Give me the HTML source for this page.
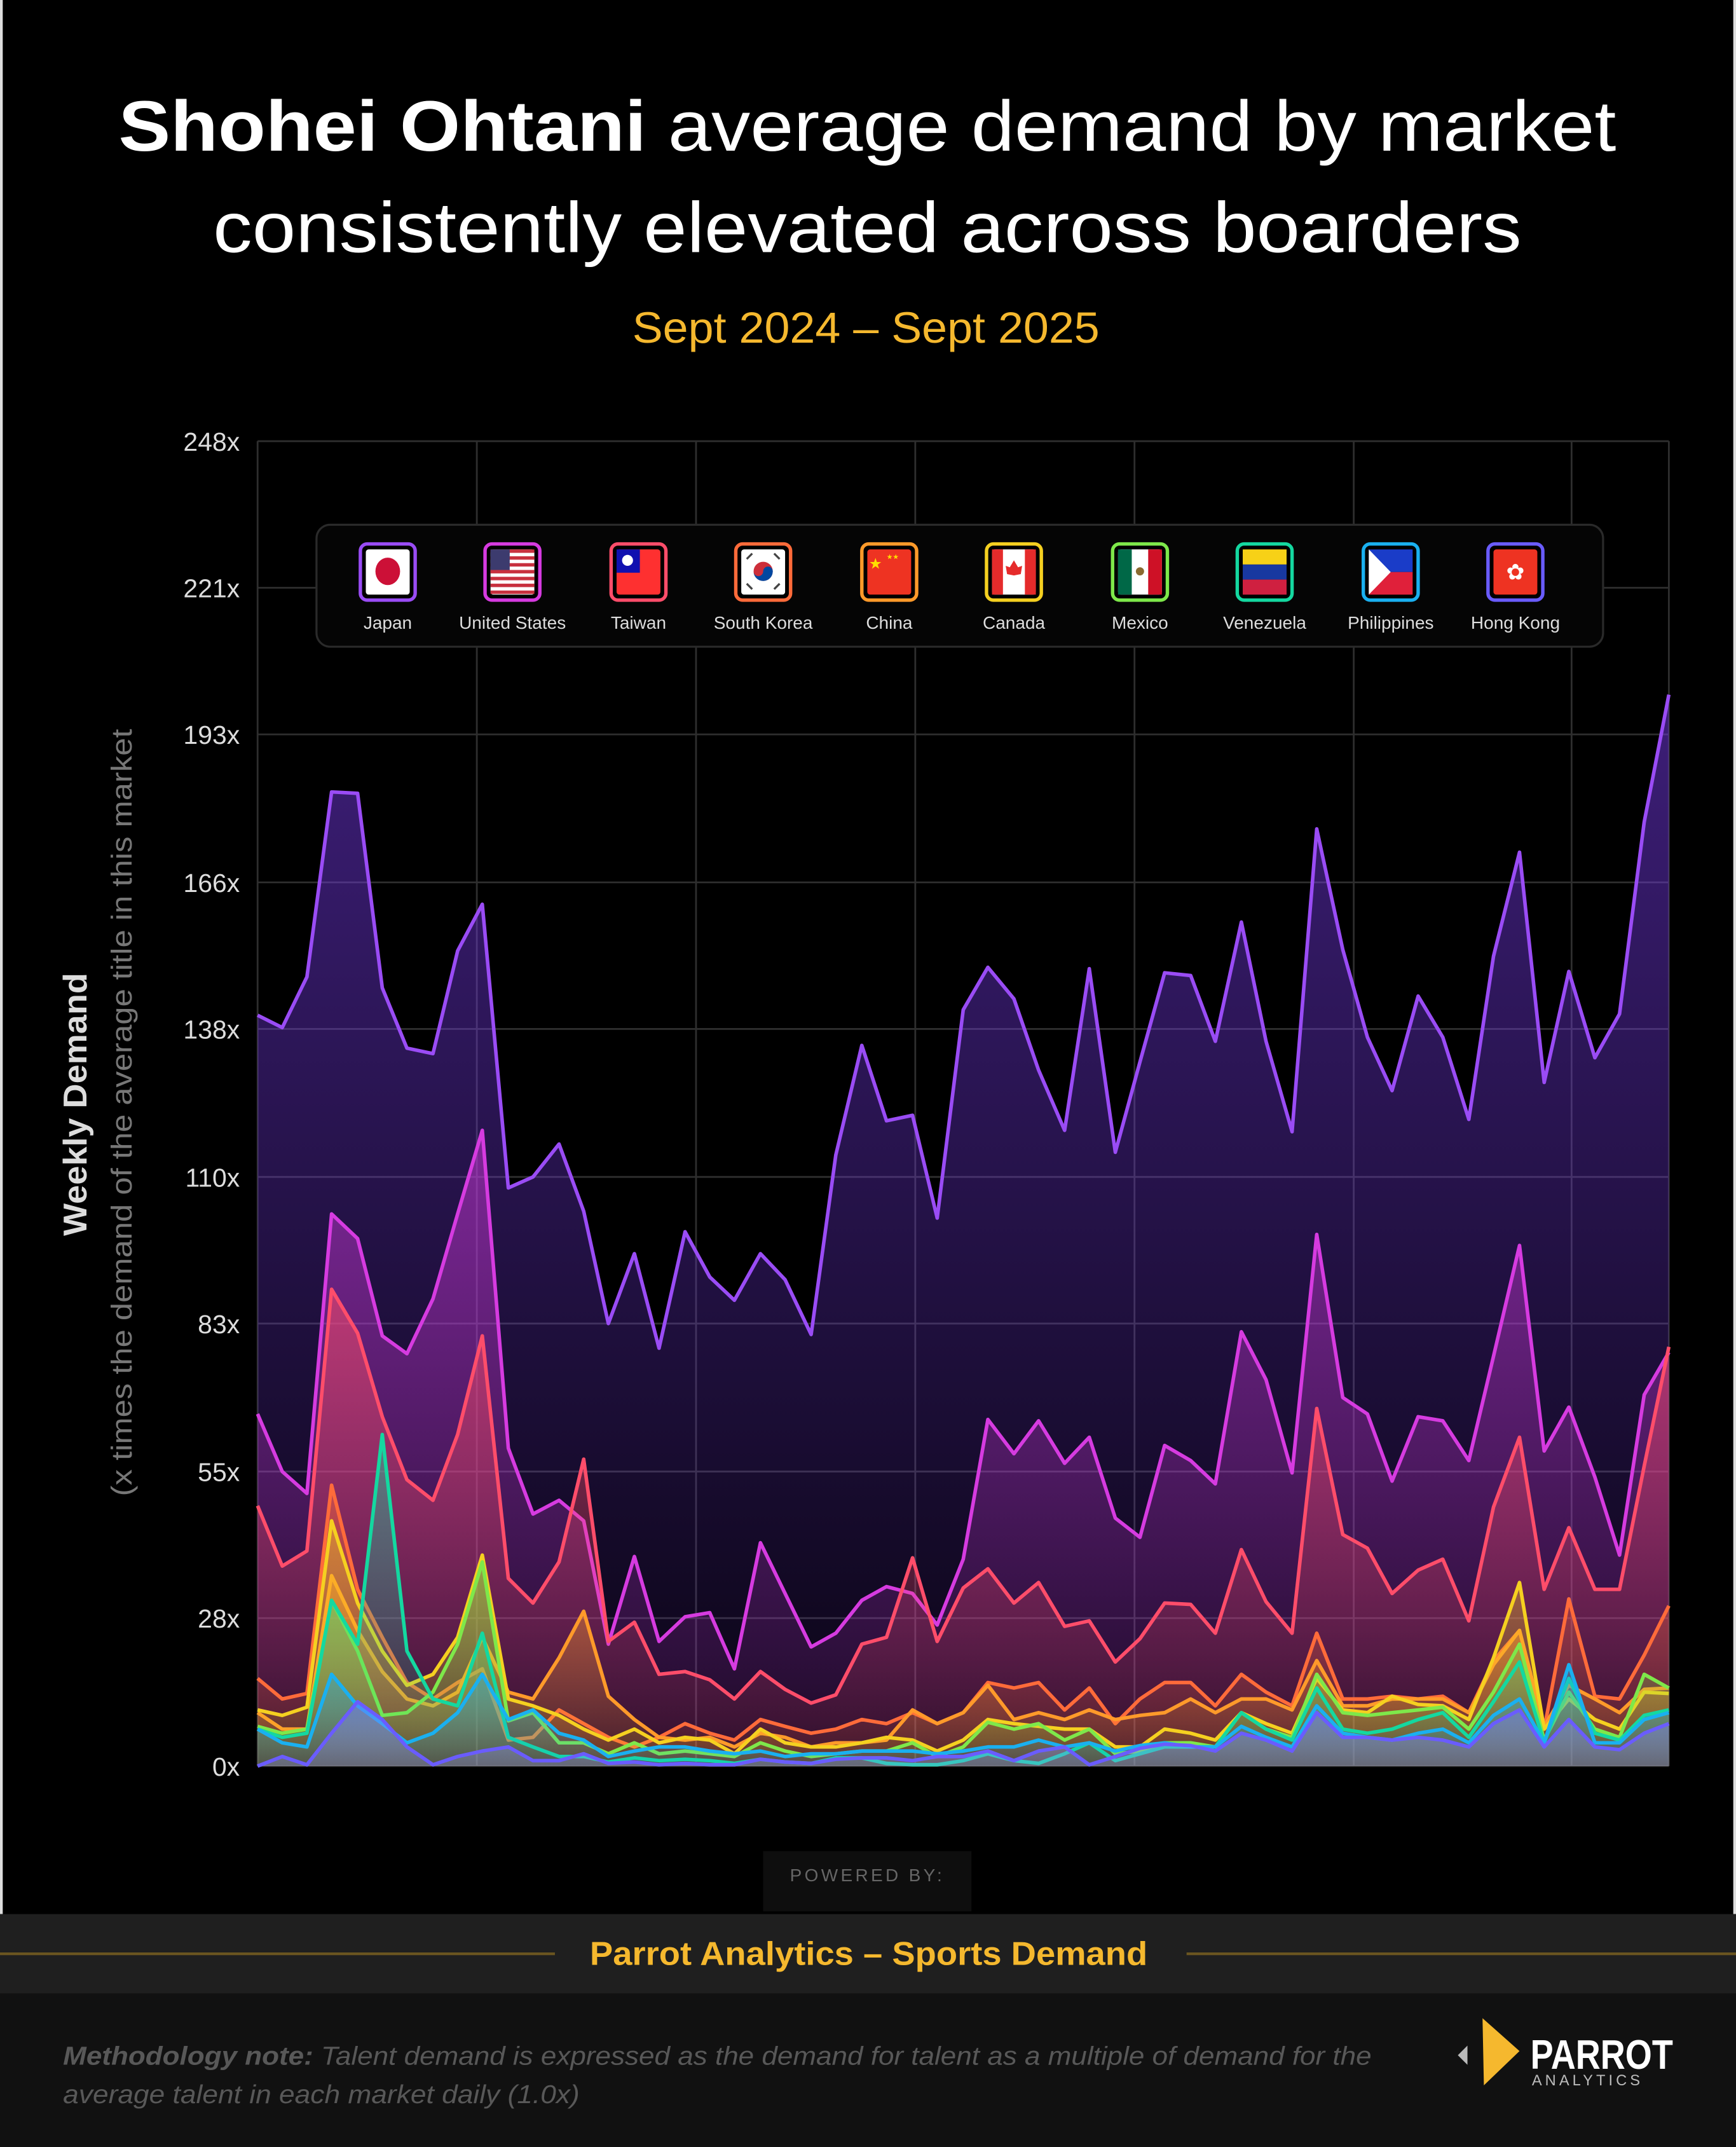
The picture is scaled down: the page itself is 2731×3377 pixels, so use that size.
<!DOCTYPE html>
<html><head><meta charset="utf-8"><style>
html,body{margin:0;padding:0;background:#000;}
svg{display:block;}
</style></head><body>
<svg width="2731" height="3377" viewBox="0 0 1267 1567" preserveAspectRatio="none" xmlns="http://www.w3.org/2000/svg" font-family="'Liberation Sans', sans-serif">
<defs>
<linearGradient id="gJ" x1="0" y1="0" x2="0" y2="1"><stop offset="0" stop-color="#7a3cf0" stop-opacity="0.5"/><stop offset="1" stop-color="#7a3cf0" stop-opacity="0.08"/></linearGradient>
<linearGradient id="gU" x1="0" y1="0" x2="0" y2="1"><stop offset="0" stop-color="#d63be0" stop-opacity="0.5"/><stop offset="1" stop-color="#d63be0" stop-opacity="0.08"/></linearGradient>
<linearGradient id="gT" x1="0" y1="0" x2="0" y2="1"><stop offset="0" stop-color="#ff4d6a" stop-opacity="0.55"/><stop offset="1" stop-color="#ff4d6a" stop-opacity="0.08"/></linearGradient>
<linearGradient id="gK" x1="0" y1="0" x2="0" y2="1"><stop offset="0" stop-color="#ff6b3a" stop-opacity="0.5"/><stop offset="1" stop-color="#ff6b3a" stop-opacity="0.08"/></linearGradient>
<linearGradient id="gC" x1="0" y1="0" x2="0" y2="1"><stop offset="0" stop-color="#ff9a2a" stop-opacity="0.5"/><stop offset="1" stop-color="#ff9a2a" stop-opacity="0.08"/></linearGradient>
<linearGradient id="gY" x1="0" y1="0" x2="0" y2="1"><stop offset="0" stop-color="#f5d020" stop-opacity="0.45"/><stop offset="1" stop-color="#f5d020" stop-opacity="0.08"/></linearGradient>
<linearGradient id="gM" x1="0" y1="0" x2="0" y2="1"><stop offset="0" stop-color="#7ee84a" stop-opacity="0.45"/><stop offset="1" stop-color="#7ee84a" stop-opacity="0.08"/></linearGradient>
<linearGradient id="gV" x1="0" y1="0" x2="0" y2="1"><stop offset="0" stop-color="#14d8a0" stop-opacity="0.45"/><stop offset="1" stop-color="#14d8a0" stop-opacity="0.08"/></linearGradient>
<linearGradient id="gP" x1="0" y1="0" x2="0" y2="1"><stop offset="0" stop-color="#1ab0f0" stop-opacity="0.45"/><stop offset="1" stop-color="#1ab0f0" stop-opacity="0.1"/></linearGradient>
<linearGradient id="gH" x1="0" y1="0" x2="0" y2="1"><stop offset="0" stop-color="#7070ff" stop-opacity="0.5"/><stop offset="1" stop-color="#a0a0ff" stop-opacity="0.25"/></linearGradient>
</defs>
<rect x="0" y="0" width="1267" height="1567" fill="#000"/>
<rect x="0" y="0" width="2" height="1397" fill="#ddd"/>
<rect x="1265" y="0" width="2" height="1397" fill="#ddd"/>

<!-- Title -->
<text x="633" y="110" text-anchor="middle" font-size="52" fill="#fff" textLength="1093" lengthAdjust="spacingAndGlyphs"><tspan font-weight="bold">Shohei Ohtani</tspan> average demand by market</text>
<text x="633" y="184" text-anchor="middle" font-size="52" fill="#fff" textLength="955" lengthAdjust="spacingAndGlyphs">consistently elevated across boarders</text>
<text x="632" y="250" text-anchor="middle" font-size="32" fill="#f5b82e" textLength="341" lengthAdjust="spacingAndGlyphs">Sept 2024 – Sept 2025</text>

<!-- Grid -->
<g stroke="#2e2e2e" stroke-width="1.3">
<line x1="188" y1="322" x2="1218" y2="322"/><line x1="188" y1="429" x2="1218" y2="429"/><line x1="188" y1="536" x2="1218" y2="536"/><line x1="188" y1="644" x2="1218" y2="644"/><line x1="188" y1="751" x2="1218" y2="751"/><line x1="188" y1="859" x2="1218" y2="859"/><line x1="188" y1="966" x2="1218" y2="966"/><line x1="188" y1="1074" x2="1218" y2="1074"/><line x1="188" y1="1181" x2="1218" y2="1181"/><line x1="188" y1="1289" x2="1218" y2="1289"/>
<line x1="188" y1="322" x2="188" y2="1289"/><line x1="348" y1="322" x2="348" y2="1289"/><line x1="508" y1="322" x2="508" y2="1289"/><line x1="668" y1="322" x2="668" y2="1289"/><line x1="828" y1="322" x2="828" y2="1289"/><line x1="988" y1="322" x2="988" y2="1289"/><line x1="1147" y1="322" x2="1147" y2="1289"/><line x1="1218" y1="322" x2="1218" y2="1289"/>
</g>
<g font-size="19" fill="#ddd" text-anchor="end">
<text x="175" y="329">248x</text><text x="175" y="436">221x</text><text x="175" y="543">193x</text><text x="175" y="651">166x</text><text x="175" y="758">138x</text><text x="175" y="866">110x</text><text x="175" y="973">83x</text><text x="175" y="1081">55x</text><text x="175" y="1188">28x</text><text x="175" y="1296">0x</text>
</g>
<text transform="translate(63,806) rotate(-90)" text-anchor="middle" font-size="24" font-weight="bold" fill="#ddd" textLength="192" lengthAdjust="spacingAndGlyphs">Weekly Demand</text>
<text transform="translate(96,812) rotate(-90)" text-anchor="middle" font-size="21" fill="#777" textLength="560" lengthAdjust="spacingAndGlyphs">(x times the demand of the average title in this market</text>

<!-- Series -->
<g stroke-width="2.6" stroke-linejoin="round" fill="none">
<polygon fill="url(#gJ)" stroke="none" points="188,741 206,750 224,713 242,578 261,579 279,721 297,765 316,769 334,694 352,660 371,867 389,859 408,835 426,884 444,966 463,915 481,984 500,899 518,932 536,949 555,915 573,934 592,974 610,843 629,763 647,818 666,814 684,889 703,737 721,706 740,729 758,781 777,825 795,707 814,841 832,775 850,710 869,712 887,760 906,673 924,760 943,826 961,605 980,693 998,757 1016,796 1035,727 1053,757 1072,817 1090,698 1109,622 1127,790 1145,709 1164,772 1182,740 1200,600 1218,507 1218,1289 188,1289"/>
<polyline stroke="#9a4cf5" points="188,741 206,750 224,713 242,578 261,579 279,721 297,765 316,769 334,694 352,660 371,867 389,859 408,835 426,884 444,966 463,915 481,984 500,899 518,932 536,949 555,915 573,934 592,974 610,843 629,763 647,818 666,814 684,889 703,737 721,706 740,729 758,781 777,825 795,707 814,841 832,775 850,710 869,712 887,760 906,673 924,760 943,826 961,605 980,693 998,757 1016,796 1035,727 1053,757 1072,817 1090,698 1109,622 1127,790 1145,709 1164,772 1182,740 1200,600 1218,507"/>

<polygon fill="url(#gU)" stroke="none" points="188,1032 206,1074 224,1090 242,886 261,904 279,975 297,988 316,948 334,886 352,825 371,1057 389,1105 408,1095 426,1110 444,1200 463,1136 481,1198 500,1180 518,1177 536,1218 555,1126 573,1163 592,1202 610,1192 629,1168 647,1158 666,1163 684,1186 703,1138 721,1036 740,1061 758,1037 777,1068 795,1049 814,1108 832,1122 850,1055 869,1066 887,1083 906,972 924,1007 943,1075 961,901 980,1020 998,1032 1016,1081 1035,1034 1053,1037 1072,1066 1090,990 1109,909 1127,1059 1145,1027 1164,1078 1182,1135 1200,1018 1218,987 1218,1289 188,1289"/>
<polyline stroke="#d63be0" points="188,1032 206,1074 224,1090 242,886 261,904 279,975 297,988 316,948 334,886 352,825 371,1057 389,1105 408,1095 426,1110 444,1200 463,1136 481,1198 500,1180 518,1177 536,1218 555,1126 573,1163 592,1202 610,1192 629,1168 647,1158 666,1163 684,1186 703,1138 721,1036 740,1061 758,1037 777,1068 795,1049 814,1108 832,1122 850,1055 869,1066 887,1083 906,972 924,1007 943,1075 961,901 980,1020 998,1032 1016,1081 1035,1034 1053,1037 1072,1066 1090,990 1109,909 1127,1059 1145,1027 1164,1078 1182,1135 1200,1018 1218,987"/>

<polygon fill="url(#gT)" stroke="none" points="188,1099 206,1143 224,1132 242,941 261,973 279,1034 297,1080 316,1095 334,1047 352,975 371,1152 389,1170 408,1140 426,1065 444,1198 463,1184 481,1222 500,1220 518,1226 536,1240 555,1220 573,1233 592,1243 610,1237 629,1200 647,1195 666,1137 684,1198 703,1159 721,1145 740,1170 758,1155 777,1187 795,1183 814,1213 832,1196 850,1170 869,1171 887,1192 906,1131 924,1169 943,1192 961,1028 980,1120 998,1130 1016,1163 1035,1146 1053,1138 1072,1183 1090,1100 1109,1049 1127,1160 1145,1115 1164,1160 1182,1160 1200,1070 1218,983 1218,1289 188,1289"/>
<polyline stroke="#ff4d6a" points="188,1099 206,1143 224,1132 242,941 261,973 279,1034 297,1080 316,1095 334,1047 352,975 371,1152 389,1170 408,1140 426,1065 444,1198 463,1184 481,1222 500,1220 518,1226 536,1240 555,1220 573,1233 592,1243 610,1237 629,1200 647,1195 666,1137 684,1198 703,1159 721,1145 740,1170 758,1155 777,1187 795,1183 814,1213 832,1196 850,1170 869,1171 887,1192 906,1131 924,1169 943,1192 961,1028 980,1120 998,1130 1016,1163 1035,1146 1053,1138 1072,1183 1090,1100 1109,1049 1127,1160 1145,1115 1164,1160 1182,1160 1200,1070 1218,983"/>

<polygon fill="url(#gK)" stroke="none" points="188,1225 206,1240 224,1236 242,1084 261,1160 279,1195 297,1228 316,1240 334,1228 352,1218 371,1270 389,1268 408,1248 426,1258 444,1268 463,1275 481,1268 500,1258 518,1265 536,1270 555,1255 573,1260 592,1265 610,1262 629,1255 647,1258 666,1250 684,1258 703,1250 721,1228 740,1232 758,1228 777,1248 795,1232 814,1258 832,1240 850,1228 869,1228 887,1245 906,1222 924,1235 943,1245 961,1192 980,1240 998,1240 1016,1238 1035,1240 1053,1238 1072,1250 1090,1212 1109,1190 1127,1262 1145,1167 1164,1238 1182,1240 1200,1208 1218,1172 1218,1289 188,1289"/>
<polyline stroke="#ff6b3a" points="188,1225 206,1240 224,1236 242,1084 261,1160 279,1195 297,1228 316,1240 334,1228 352,1218 371,1270 389,1268 408,1248 426,1258 444,1268 463,1275 481,1268 500,1258 518,1265 536,1270 555,1255 573,1260 592,1265 610,1262 629,1255 647,1258 666,1250 684,1258 703,1250 721,1228 740,1232 758,1228 777,1248 795,1232 814,1258 832,1240 850,1228 869,1228 887,1245 906,1222 924,1235 943,1245 961,1192 980,1240 998,1240 1016,1238 1035,1240 1053,1238 1072,1250 1090,1212 1109,1190 1127,1262 1145,1167 1164,1238 1182,1240 1200,1208 1218,1172"/>

<polygon fill="url(#gC)" stroke="none" points="188,1250 206,1262 224,1262 242,1150 261,1190 279,1220 297,1240 316,1245 334,1235 352,1195 371,1235 389,1240 408,1210 426,1176 444,1238 463,1255 481,1268 500,1270 518,1268 536,1275 555,1265 573,1268 592,1275 610,1272 629,1272 647,1270 666,1248 684,1258 703,1250 721,1230 740,1255 758,1250 777,1255 795,1248 814,1255 832,1252 850,1250 869,1240 887,1250 906,1240 924,1240 943,1248 961,1212 980,1245 998,1245 1016,1240 1035,1240 1053,1240 1072,1250 1090,1215 1109,1190 1127,1260 1145,1230 1164,1240 1182,1250 1200,1233 1218,1232 1218,1289 188,1289"/>
<polyline stroke="#ff9a2a" points="188,1250 206,1262 224,1262 242,1150 261,1190 279,1220 297,1240 316,1245 334,1235 352,1195 371,1235 389,1240 408,1210 426,1176 444,1238 463,1255 481,1268 500,1270 518,1268 536,1275 555,1265 573,1268 592,1275 610,1272 629,1272 647,1270 666,1248 684,1258 703,1250 721,1230 740,1255 758,1250 777,1255 795,1248 814,1255 832,1252 850,1250 869,1240 887,1250 906,1240 924,1240 943,1248 961,1212 980,1245 998,1245 1016,1240 1035,1240 1053,1240 1072,1250 1090,1215 1109,1190 1127,1260 1145,1230 1164,1240 1182,1250 1200,1233 1218,1232"/>

<polygon fill="url(#gY)" stroke="none" points="188,1248 206,1252 224,1246 242,1110 261,1170 279,1205 297,1230 316,1222 334,1195 352,1135 371,1240 389,1245 408,1252 426,1262 444,1270 463,1262 481,1272 500,1268 518,1270 536,1280 555,1262 573,1272 592,1275 610,1275 629,1272 647,1268 666,1270 684,1278 703,1270 721,1255 740,1258 758,1260 777,1262 795,1262 814,1275 832,1275 850,1262 869,1265 887,1270 906,1250 924,1258 943,1265 961,1225 980,1248 998,1250 1016,1238 1035,1244 1053,1245 1072,1255 1090,1210 1109,1155 1127,1262 1145,1240 1164,1255 1182,1262 1200,1235 1218,1236 1218,1289 188,1289"/>
<polyline stroke="#f5d020" points="188,1248 206,1252 224,1246 242,1110 261,1170 279,1205 297,1230 316,1222 334,1195 352,1135 371,1240 389,1245 408,1252 426,1262 444,1270 463,1262 481,1272 500,1268 518,1270 536,1280 555,1262 573,1272 592,1275 610,1275 629,1272 647,1268 666,1270 684,1278 703,1270 721,1255 740,1258 758,1260 777,1262 795,1262 814,1275 832,1275 850,1262 869,1265 887,1270 906,1250 924,1258 943,1265 961,1225 980,1248 998,1250 1016,1238 1035,1244 1053,1245 1072,1255 1090,1210 1109,1155 1127,1262 1145,1240 1164,1255 1182,1262 1200,1235 1218,1236"/>

<polygon fill="url(#gM)" stroke="none" points="188,1260 206,1265 224,1262 242,1168 261,1205 279,1252 297,1250 316,1235 334,1200 352,1140 371,1256 389,1250 408,1272 426,1272 444,1280 463,1272 481,1280 500,1278 518,1280 536,1282 555,1272 573,1278 592,1282 610,1280 629,1278 647,1278 666,1272 684,1282 703,1275 721,1257 740,1262 758,1258 777,1270 795,1262 814,1280 832,1278 850,1272 869,1272 887,1275 906,1250 924,1262 943,1268 961,1222 980,1250 998,1252 1016,1250 1035,1248 1053,1246 1072,1262 1090,1235 1109,1200 1127,1270 1145,1235 1164,1262 1182,1268 1200,1222 1218,1232 1218,1289 188,1289"/>
<polyline stroke="#7ee84a" points="188,1260 206,1265 224,1262 242,1168 261,1205 279,1252 297,1250 316,1235 334,1200 352,1140 371,1256 389,1250 408,1272 426,1272 444,1280 463,1272 481,1280 500,1278 518,1280 536,1282 555,1272 573,1278 592,1282 610,1280 629,1278 647,1278 666,1272 684,1282 703,1275 721,1257 740,1262 758,1258 777,1270 795,1262 814,1280 832,1278 850,1272 869,1272 887,1275 906,1250 924,1262 943,1268 961,1222 980,1250 998,1252 1016,1250 1035,1248 1053,1246 1072,1262 1090,1235 1109,1200 1127,1270 1145,1235 1164,1262 1182,1268 1200,1222 1218,1232"/>

<polygon fill="url(#gV)" stroke="none" points="188,1262 206,1268 224,1265 242,1168 261,1200 279,1047 297,1205 316,1240 334,1245 352,1192 371,1268 389,1275 408,1282 426,1282 444,1286 463,1283 481,1285 500,1284 518,1285 536,1287 555,1284 573,1286 592,1287 610,1283 629,1283 647,1287 666,1288 684,1288 703,1285 721,1280 740,1285 758,1287 777,1280 795,1272 814,1285 832,1280 850,1275 869,1275 887,1275 906,1250 924,1262 943,1270 961,1232 980,1262 998,1265 1016,1262 1035,1255 1053,1250 1072,1268 1090,1242 1109,1213 1127,1272 1145,1225 1164,1265 1182,1270 1200,1252 1218,1248 1218,1289 188,1289"/>
<polyline stroke="#14d8a0" points="188,1262 206,1268 224,1265 242,1168 261,1200 279,1047 297,1205 316,1240 334,1245 352,1192 371,1268 389,1275 408,1282 426,1282 444,1286 463,1283 481,1285 500,1284 518,1285 536,1287 555,1284 573,1286 592,1287 610,1283 629,1283 647,1287 666,1288 684,1288 703,1285 721,1280 740,1285 758,1287 777,1280 795,1272 814,1285 832,1280 850,1275 869,1275 887,1275 906,1250 924,1262 943,1270 961,1232 980,1262 998,1265 1016,1262 1035,1255 1053,1250 1072,1268 1090,1242 1109,1213 1127,1272 1145,1225 1164,1265 1182,1270 1200,1252 1218,1248"/>

<polygon fill="url(#gP)" stroke="none" points="188,1262 206,1272 224,1275 242,1222 261,1245 279,1258 297,1272 316,1265 334,1250 352,1222 371,1255 389,1248 408,1265 426,1270 444,1282 463,1278 481,1275 500,1275 518,1278 536,1280 555,1278 573,1282 592,1280 610,1280 629,1278 647,1278 666,1278 684,1280 703,1278 721,1275 740,1275 758,1270 777,1275 795,1272 814,1278 832,1274 850,1272 869,1275 887,1275 906,1260 924,1268 943,1275 961,1245 980,1265 998,1268 1016,1270 1035,1265 1053,1262 1072,1272 1090,1252 1109,1240 1127,1272 1145,1215 1164,1272 1182,1272 1200,1255 1218,1250 1218,1289 188,1289"/>
<polyline stroke="#1ab0f0" points="188,1262 206,1272 224,1275 242,1222 261,1245 279,1258 297,1272 316,1265 334,1250 352,1222 371,1255 389,1248 408,1265 426,1270 444,1282 463,1278 481,1275 500,1275 518,1278 536,1280 555,1278 573,1282 592,1280 610,1280 629,1278 647,1278 666,1278 684,1280 703,1278 721,1275 740,1275 758,1270 777,1275 795,1272 814,1278 832,1274 850,1272 869,1275 887,1275 906,1260 924,1268 943,1275 961,1245 980,1265 998,1268 1016,1270 1035,1265 1053,1262 1072,1272 1090,1252 1109,1240 1127,1272 1145,1215 1164,1272 1182,1272 1200,1255 1218,1250"/>

<polygon fill="url(#gH)" stroke="none" points="188,1289 206,1282 224,1288 242,1265 261,1242 279,1255 297,1275 316,1288 334,1282 352,1278 371,1275 389,1285 408,1285 426,1280 444,1287 463,1286 481,1288 500,1287 518,1288 536,1288 555,1284 573,1286 592,1287 610,1284 629,1283 647,1283 666,1285 684,1282 703,1282 721,1278 740,1285 758,1278 777,1275 795,1288 814,1282 832,1276 850,1273 869,1274 887,1278 906,1265 924,1270 943,1278 961,1250 980,1268 998,1268 1016,1270 1035,1268 1053,1270 1072,1275 1090,1258 1109,1248 1127,1275 1145,1255 1164,1275 1182,1277 1200,1265 1218,1258 1218,1289 188,1289"/>
<polyline stroke="#6a5cff" points="188,1289 206,1282 224,1288 242,1265 261,1242 279,1255 297,1275 316,1288 334,1282 352,1278 371,1275 389,1285 408,1285 426,1280 444,1287 463,1286 481,1288 500,1287 518,1288 536,1288 555,1284 573,1286 592,1287 610,1284 629,1283 647,1283 666,1285 684,1282 703,1282 721,1278 740,1285 758,1278 777,1275 795,1288 814,1282 832,1276 850,1273 869,1274 887,1278 906,1265 924,1270 943,1278 961,1250 980,1268 998,1268 1016,1270 1035,1268 1053,1270 1072,1275 1090,1258 1109,1248 1127,1275 1145,1255 1164,1275 1182,1277 1200,1265 1218,1258"/>
</g>

<!-- Legend -->
<rect x="231" y="383" width="939" height="89" rx="10" fill="#050505" stroke="#2a2a2a" stroke-width="1.5"/>
<g font-size="13" fill="#ddd" text-anchor="middle">
<text x="283" y="459">Japan</text><text x="374" y="459">United States</text><text x="466" y="459">Taiwan</text><text x="557" y="459">South Korea</text><text x="649" y="459">China</text><text x="740" y="459">Canada</text><text x="832" y="459">Mexico</text><text x="923" y="459">Venezuela</text><text x="1015" y="459">Philippines</text><text x="1106" y="459">Hong Kong</text>
</g>
<g stroke-width="2.5">
<!-- Japan -->
<rect x="263" y="397" width="40" height="41" rx="5" fill="#000" stroke="#9a4cf5"/>
<rect x="267" y="401" width="32" height="33" rx="2" fill="#fff"/><ellipse cx="283" cy="417" rx="9" ry="10" fill="#cc1037"/>
<!-- US -->
<rect x="354" y="397" width="40" height="41" rx="5" fill="#000" stroke="#d63be0"/>
<rect x="358" y="401" width="32" height="33" rx="2" fill="#fff"/>
<g fill="#c8303e"><rect x="358" y="401" width="32" height="2.5"/><rect x="358" y="406" width="32" height="2.5"/><rect x="358" y="411" width="32" height="2.5"/><rect x="358" y="416" width="32" height="2.5"/><rect x="358" y="421" width="32" height="2.5"/><rect x="358" y="426" width="32" height="2.5"/><rect x="358" y="431" width="32" height="2.5"/></g>
<rect x="358" y="401" width="14" height="15" fill="#3c3b6e"/>
<!-- Taiwan -->
<rect x="446" y="397" width="40" height="41" rx="5" fill="#000" stroke="#ff4d6a"/>
<rect x="450" y="401" width="32" height="33" rx="2" fill="#fe3030"/><rect x="450" y="401" width="17" height="17" fill="#1010b0"/><circle cx="458" cy="409" r="4" fill="#fff"/>
<!-- Korea -->
<rect x="537" y="397" width="40" height="41" rx="5" fill="#000" stroke="#ff6b3a"/>
<rect x="541" y="401" width="32" height="33" rx="2" fill="#fff"/><circle cx="557" cy="417" r="7" fill="#cd2e3a"/><path d="M550,417 a7,7 0 0 0 14,0 a3.5,3.5 0 0 0 -7,0 a3.5,3.5 0 0 1 -7,0z" fill="#0047a0" stroke="none"/>
<g stroke="#444" stroke-width="1.5"><line x1="545" y1="408" x2="549" y2="404"/><line x1="565" y1="404" x2="569" y2="408"/><line x1="545" y1="426" x2="549" y2="430"/><line x1="565" y1="430" x2="569" y2="426"/></g>
<!-- China -->
<rect x="629" y="397" width="40" height="41" rx="5" fill="#000" stroke="#ff9a2a"/>
<rect x="633" y="401" width="32" height="33" rx="2" fill="#ee3322"/><text x="639" y="415" font-size="11" fill="#ffde00" stroke="none" text-anchor="middle">★</text><text x="647" y="408" font-size="5" fill="#ffde00" stroke="none">★★</text>
<!-- Canada -->
<rect x="720" y="397" width="40" height="41" rx="5" fill="#000" stroke="#f5d020"/>
<rect x="724" y="401" width="32" height="33" rx="2" fill="#fff"/><rect x="724" y="401" width="8" height="33" fill="#e52b2b"/><rect x="748" y="401" width="8" height="33" fill="#e52b2b"/><path d="M740,409 l3,5 l3,-1 l-1,6 l-5,1 l-5,-1 l-1,-6 l3,1z" fill="#e52b2b" stroke="none"/>
<!-- Mexico -->
<rect x="812" y="397" width="40" height="41" rx="5" fill="#000" stroke="#7ee84a"/>
<rect x="816" y="401" width="32" height="33" rx="2" fill="#fff"/><rect x="816" y="401" width="10" height="33" fill="#006847"/><rect x="838" y="401" width="10" height="33" fill="#ce1126"/><circle cx="832" cy="417" r="3" fill="#8a6a30"/>
<!-- Venezuela -->
<rect x="903" y="397" width="40" height="41" rx="5" fill="#000" stroke="#14d8a0"/>
<rect x="907" y="401" width="32" height="11" fill="#f7d117"/><rect x="907" y="412" width="32" height="11" fill="#1838a0"/><rect x="907" y="423" width="32" height="11" fill="#cf2040"/>
<!-- Philippines -->
<rect x="995" y="397" width="40" height="41" rx="5" fill="#000" stroke="#1ab0f0"/>
<rect x="999" y="401" width="32" height="16.5" fill="#1a3cc8"/><rect x="999" y="417.5" width="32" height="16.5" fill="#e0203a"/><path d="M999,401 L1015,417.5 L999,434z" fill="#fff" stroke="none"/>
<!-- Hong Kong -->
<rect x="1086" y="397" width="40" height="41" rx="5" fill="#000" stroke="#6a5cff"/>
<rect x="1090" y="401" width="32" height="33" rx="2" fill="#ee3322"/><text x="1106" y="423" font-size="16" fill="#fff" stroke="none" text-anchor="middle">✿</text>
</g>

<!-- Powered by -->
<rect x="557" y="1351" width="152" height="44" fill="#0e0e0e"/>
<text x="633" y="1373" text-anchor="middle" font-size="13" fill="#666" letter-spacing="2">POWERED BY:</text>

<!-- Band -->
<rect x="0" y="1397" width="1267" height="58" fill="#1f1f1f"/>
<line x1="0" y1="1426" x2="405" y2="1426" stroke="#6a5520" stroke-width="2"/>
<line x1="866" y1="1426" x2="1267" y2="1426" stroke="#6a5520" stroke-width="2"/>
<text x="634" y="1434" text-anchor="middle" font-size="24" font-weight="bold" fill="#f5b82e" textLength="407" lengthAdjust="spacingAndGlyphs">Parrot Analytics – Sports Demand</text>

<!-- Footer -->
<rect x="0" y="1455" width="1267" height="112" fill="#111"/>
<text x="46" y="1507" font-size="19" font-style="italic" fill="#585858" textLength="955" lengthAdjust="spacingAndGlyphs"><tspan font-weight="bold">Methodology note:</tspan> Talent demand is expressed as the demand for talent as a multiple of demand for the</text>
<text x="46" y="1535" font-size="19" font-style="italic" fill="#585858" textLength="377" lengthAdjust="spacingAndGlyphs">average talent in each market daily (1.0x)</text>
<path d="M1071,1493 L1064,1500 L1071,1507z" fill="#bbb"/>
<path d="M1082,1473 L1109,1497 L1083,1522 z" fill="#f5b82e"/>
<text x="1117" y="1510" font-size="30" font-weight="bold" fill="#fff" textLength="104" lengthAdjust="spacingAndGlyphs">PARROT</text>
<text x="1118" y="1522" font-size="11" fill="#bbb" textLength="82" lengthAdjust="spacing" letter-spacing="3">ANALYTICS</text>
</svg>
</body></html>
